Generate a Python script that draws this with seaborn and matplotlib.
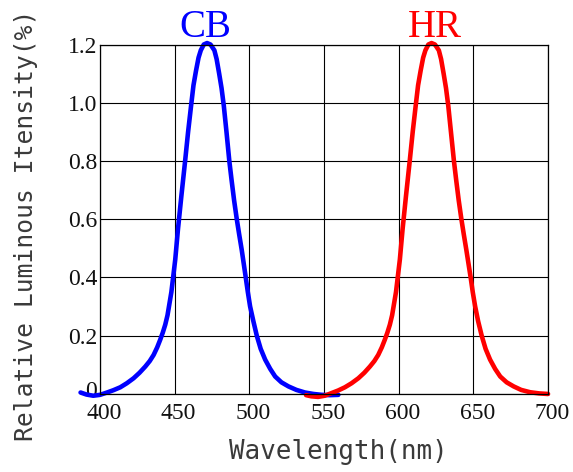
import matplotlib
matplotlib.use("Agg")
import matplotlib.pyplot as plt
import matplotlib.transforms as mtransforms
import seaborn as sns
import pandas as pd

# ---- data ----
cb_wavelength = [387, 391, 395.5, 400, 404.7, 409, 413.6, 418, 422.5, 426.5, 430.3, 433.3,
                 435.9, 438.3, 440.3, 442, 443.7, 445.2, 446.6, 447.8, 448.8, 450.4,
                 452.2, 454.5, 457, 459, 461, 462.6, 464.3, 466, 467.5, 469.5, 471.7,
                 474, 476.6, 478.1, 479.8, 481.4, 482.9, 484.7, 486.6, 488.1, 489.8,
                 491.6, 493.2, 494.9, 497.6, 499, 500.5, 502.7, 505, 507.6, 510.6, 514,
                 517.3, 521.5, 526.2, 531.5, 537.3, 543, 548.5, 554, 559.6]
cb_intensity = [0.005, -0.002, -0.006, -0.003, 0.005, 0.013, 0.023, 0.037, 0.054, 0.073,
                0.094, 0.113, 0.134, 0.16, 0.186, 0.21, 0.238, 0.27, 0.313, 0.35, 0.393,
                0.462, 0.565, 0.68, 0.8, 0.9, 0.99, 1.06, 1.11, 1.155, 1.18, 1.2, 1.205,
                1.2, 1.18, 1.15, 1.1, 1.05, 0.99, 0.9, 0.8, 0.735, 0.665,
                0.6, 0.548, 0.495, 0.4, 0.35, 0.301, 0.25, 0.2, 0.155, 0.118, 0.086,
                0.06, 0.04, 0.026, 0.014, 0.005, 0.0, -0.003, -0.004, -0.003]

hr_wavelength = [538, 541.5, 546, 550.5, 555, 559.5, 564, 568.5, 573, 577, 580.7, 583.7,
                 586.3, 588.7, 590.7, 592.4, 594.1, 595.6, 597, 598.2, 599.2, 600.8,
                 602.6, 604.9, 607.4, 609.4, 611.4, 613, 614.7, 616.4, 617.9, 619.9,
                 622, 624.3, 626.9, 628.4, 630.1, 631.7, 633.2, 635, 637, 638.5, 640.2,
                 642, 643.6, 645.3, 648.2, 649.6, 651.2, 653.2, 655.6, 658.2, 661.2,
                 664.6, 668, 672.3, 677, 682, 688, 694, 700]
hr_intensity = [-0.004, -0.008, -0.01, -0.006, 0.003, 0.012, 0.023, 0.037, 0.054, 0.073,
                0.094, 0.113, 0.134, 0.16, 0.186, 0.21, 0.238, 0.27, 0.313, 0.35, 0.393,
                0.462, 0.565, 0.68, 0.8, 0.9, 0.99, 1.06, 1.11, 1.155, 1.18, 1.2,
                1.205, 1.2, 1.18, 1.15, 1.1, 1.05, 0.99, 0.9, 0.8, 0.735, 0.665,
                0.6, 0.548, 0.495, 0.4, 0.35, 0.301, 0.25, 0.2, 0.155, 0.118,
                0.086, 0.06, 0.04, 0.026, 0.014, 0.006, 0.002, 0.0]

x_ticks = [400, 450, 500, 550, 600, 650, 700]
y_ticks = [0, 0.2, 0.4, 0.6, 0.8, 1.0, 1.2]
y_tick_labels = ["0", "0.2", "0.4", "0.6", "0.8", "1.0", "1.2"]
series_names = ["CB", "HR"]
series_colors = ["#0000ff", "#ff0000"]
peak_wavelengths = [470.5, 624.3]

sns.set_theme(style="white")
plt.rcParams["font.family"] = ["Liberation Serif", "DejaVu Serif"]

df_cb = pd.DataFrame({"wavelength": cb_wavelength, "intensity": cb_intensity})
df_hr = pd.DataFrame({"wavelength": hr_wavelength, "intensity": hr_intensity})

fig = plt.figure(figsize=(5.73, 4.72), dpi=100)
ax = fig.add_axes([0.1745, 0.1653, 0.9564 - 0.1745, 0.9057 - 0.1653])

for df, c in zip([df_cb, df_hr], series_colors):
    sns.lineplot(data=df, x="wavelength", y="intensity", ax=ax, color=c,
                 linewidth=3.3, sort=False, estimator=None)
for ln in ax.lines:
    ln.set_clip_on(False)
    ln.set_solid_capstyle("round")
    ln.set_solid_joinstyle("round")

ax.set_xlim(400, 700)
ax.set_ylim(0, 1.2)
ax.set_xticks(x_ticks)
ax.set_xticklabels([str(v) for v in x_ticks])
ax.set_yticks(y_ticks)
ax.set_yticklabels(y_tick_labels)
ax.grid(True, color="black", linewidth=0.8)
ax.set_axisbelow(True)
for s in ax.spines.values():
    s.set_color("black")
    s.set_linewidth(0.9)
    s.set_visible(True)

ax.tick_params(axis="both", length=0, labelsize=17, colors="#111111")
ax.tick_params(axis="x", pad=6.5)
ax.tick_params(axis="y", pad=2)
offset = mtransforms.ScaledTranslation(4 / 100, 0, fig.dpi_scale_trans)
for lbl in ax.get_xticklabels():
    lbl.set_transform(lbl.get_transform() + offset)
zero_lbl = ax.get_yticklabels()[0]
zero_lbl.set_transform(zero_lbl.get_transform()
                       + mtransforms.ScaledTranslation(0, 5 / 100, fig.dpi_scale_trans))

ax.set_xlabel("Wavelength(nm)", family=["DejaVu Sans Mono"], fontsize=18.6,
              color="#3a3a3a")
ax.set_ylabel("Relative Luminous Itensity(%)", family=["DejaVu Sans Mono"],
              fontsize=17.7, color="#3a3a3a")
ax.xaxis.set_label_coords((338 - 100) / 448, -0.13)
ax.yaxis.set_label_coords(-0.138, 0.4835)

trans = mtransforms.blended_transform_factory(ax.transData, ax.transAxes)
for name, c, w in zip(series_names, series_colors, peak_wavelengths):
    ax.text(w, 1.022, name, transform=trans, ha="center", va="baseline",
            fontsize=28, color=c, family=["Liberation Serif"])

fig.savefig("out.png", dpi=100)
